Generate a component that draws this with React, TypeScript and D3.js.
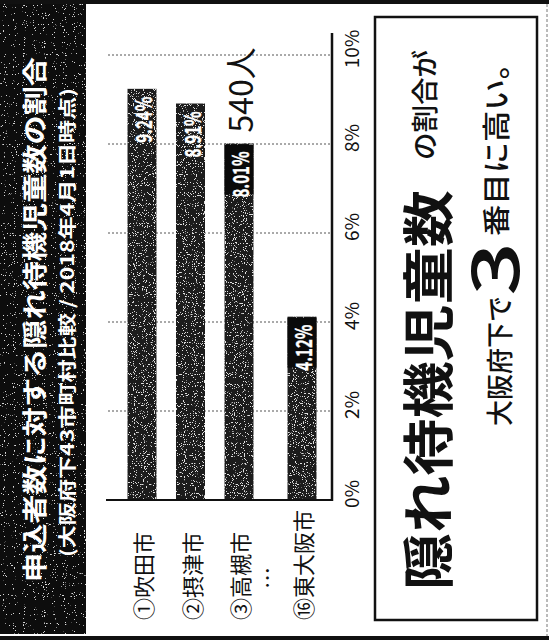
import React from 'react';
import * as d3 from 'd3';

const categories = ['①吹田市', '②摂津市', '③高槻市', '⑯東大阪市'];
const values = [9.24, 8.91, 8.01, 4.12];
const valueLabels = ['9.24%', '8.91%', '8.01%', '4.12%'];
const boxedLabels = [false, false, true, true];
const tickValues = [0, 2, 4, 6, 8, 10];
const tickLabels = ['0%', '2%', '4%', '6%', '8%', '10%'];
const annotationText = '540人';
const annotationIndex = 2;
const titleText = '申込者数に対する隠れ待機児童数の割合';
const subtitleText = '(大阪府下43市町村比較 / 2018年4月1日時点)';
const headlineBig = '隠れ待機児童数';
const headlineSmall = 'の割合が';
const line2a = '大阪府下で';
const line2num = '3';
const line2b = '番目に高い。';

const FONT = "'Noto Sans CJK JP', 'Noto Sans', sans-serif";

export default function App() {
  const W = 549;
  const H = 643;
  const y = d3.scaleLinear().domain([0, 10]).range([500, 55]);
  const x = d3.scaleLinear().domain([0, 2, 3]).range([142, 239, 302]);
  const barW = 29;
  const vt = (cx: number, cy: number) => `translate(${cx},${cy}) rotate(-90)`;

  return (
    <svg width={W} height={H} style={{ position: 'absolute', left: 0, top: 0, background: '#fff' }} fontFamily={FONT}>
      <defs>
        <filter id="speckle" x="0" y="0" width="100%" height="100%">
          <feTurbulence type="fractalNoise" baseFrequency="0.9" numOctaves="1" seed="3" result="noise" />
          <feColorMatrix in="noise" type="matrix"
            values="0 0 0 0 0.75  0 0 0 0 0.75  0 0 0 0 0.75  0 0 0 25 -15.5" result="dots" />
          <feComposite in="dots" in2="SourceGraphic" operator="in" result="clip" />
          <feMerge>
            <feMergeNode in="SourceGraphic" />
            <feMergeNode in="clip" />
          </feMerge>
        </filter>
        <filter id="speckleBand" x="0" y="0" width="100%" height="100%">
          <feTurbulence type="fractalNoise" baseFrequency="0.9" numOctaves="1" seed="7" result="noise" />
          <feColorMatrix in="noise" type="matrix"
            values="0 0 0 0 0.7  0 0 0 0 0.7  0 0 0 0 0.7  0 0 0 30 -20.5" result="dots" />
          <feComposite in="dots" in2="SourceGraphic" operator="in" result="clip" />
          <feMerge>
            <feMergeNode in="SourceGraphic" />
            <feMergeNode in="clip" />
          </feMerge>
        </filter>
      </defs>
      <rect x={0} y={0} width={W} height={H} fill="#fff" />

      {/* left title band */}
      <rect x={0} y={0} width={86} height={634} fill="#0c0c0c" filter="url(#speckleBand)" />
      <text transform={vt(33, 582)} textAnchor="start" dominantBaseline="central" fill="#fff"
        fontSize={25} fontWeight={700} textLength={525} lengthAdjust="spacingAndGlyphs">{titleText}</text>
      <text transform={vt(66, 557)} textAnchor="start" dominantBaseline="central" fill="#fff"
        fontSize={18} fontWeight={700} textLength={469} lengthAdjust="spacingAndGlyphs">{subtitleText}</text>

      {/* outer frame lines */}
      <rect x={0} y={0} width={W} height={4} fill="#111" />
      <rect x={0} y={636} width={W} height={4} fill="#111" />
      <line x1={547} x2={547} y1={4} y2={636} stroke="#777" strokeWidth={1} strokeDasharray="3,2" />

      {/* gridlines */}
      {tickValues.filter(t => t > 0).map(t => (
        <line key={t} x1={108} x2={332} y1={y(t)} y2={y(t)} stroke="#555" strokeWidth={1} strokeDasharray="2,2" />
      ))}

      {/* bars */}
      {values.map((v, i) => (
        <rect key={i} x={x(i) - barW / 2} y={y(v)} width={barW} height={y(0) - y(v)}
          fill="#1e1e1e" filter="url(#speckle)" />
      ))}

      {/* value labels */}
      {values.map((v, i) => (
        <g key={i}>
          {boxedLabels[i] && (
            <rect x={x(i) - barW / 2} y={y(v) + 1} width={barW} height={50} fill="#0a0a0a" />
          )}
          <text transform={vt(x(i), y(v) + 8)} textAnchor="end" dominantBaseline="central" fill="#fff"
            stroke="#fff" strokeWidth={0.4}
            fontSize={22} fontWeight={700} textLength={46} lengthAdjust="spacingAndGlyphs">{valueLabels[i]}</text>
        </g>
      ))}

      {/* annotation */}
      <text transform={vt(x(annotationIndex), y(values[annotationIndex]) - 11)} textAnchor="start"
        dominantBaseline="central" fill="#111" fontSize={32} fontWeight={400}>{annotationText}</text>

      {/* axis lines */}
      <line x1={106} x2={333} y1={y(0)} y2={y(0)} stroke="#111" strokeWidth={2} />
      <line x1={332} x2={332} y1={33} y2={y(0) + 1} stroke="#111" strokeWidth={2.5} />

      {/* tick labels */}
      {tickValues.map((t, i) => (
        <text key={t} transform={vt(350, y(t) - 6)} textAnchor="middle" dominantBaseline="central"
          fill="#111" fontSize={19}>{tickLabels[i]}</text>
      ))}

      {/* category labels */}
      {categories.map((c, i) => (
        <text key={c} transform={vt(x(i), 620)} textAnchor="start" dominantBaseline="central"
          fill="#111" fontSize={22}>{c}</text>
      ))}
      <text transform={vt(265, 578)} textAnchor="middle" dominantBaseline="central" fill="#111" fontSize={22}>…</text>

      {/* headline box */}
      <rect x={375} y={17} width={162} height={603} fill="none" stroke="#111" strokeWidth={2.5} />
      <text transform={vt(425, 590)} textAnchor="start" dominantBaseline="central" fill="#111"
        fontSize={52} fontWeight={700} textLength={400} lengthAdjust="spacingAndGlyphs">{headlineBig}</text>
      <text transform={vt(423, 160)} textAnchor="start" dominantBaseline="central" fill="#111"
        fontSize={27} fontWeight={500} textLength={110} lengthAdjust="spacingAndGlyphs">{headlineSmall}</text>
      <text transform={vt(498, 426)} textAnchor="start" dominantBaseline="central" fill="#111"
        fontSize={27} fontWeight={500} textLength={130} lengthAdjust="spacingAndGlyphs">{line2a}</text>
      <text transform={vt(490, 296)} textAnchor="start" dominantBaseline="central" fill="#111"
        fontSize={66} fontWeight={500} textLength={54} lengthAdjust="spacingAndGlyphs">{line2num}</text>
      <text transform={vt(495, 236)} textAnchor="start" dominantBaseline="central" fill="#111"
        fontSize={28} fontWeight={500} textLength={188} lengthAdjust="spacingAndGlyphs">{line2b}</text>
    </svg>
  );
}
